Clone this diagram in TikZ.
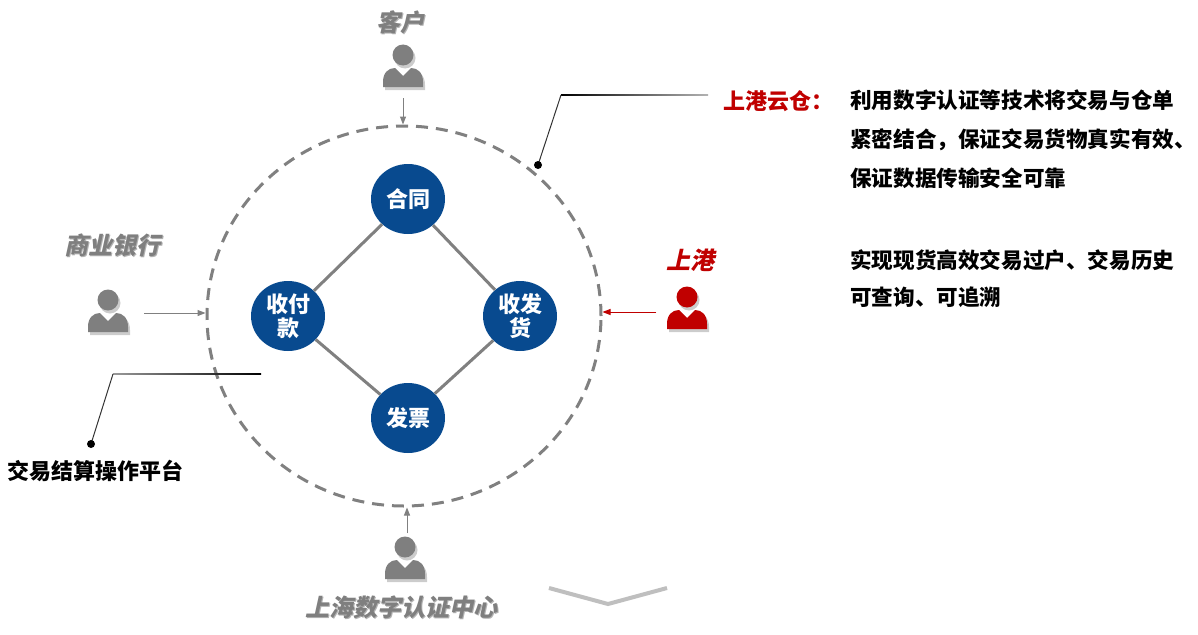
\documentclass[tikz,border=0pt]{standalone}
\usepackage{fontspec}
\newfontfamily\cjk{Noto Sans CJK SC}
\newfontfamily\cjkit{Noto Sans CJK SC}[FakeSlant=0.22]
\usetikzlibrary{shapes.geometric,arrows.meta}
\definecolor{nodeblue}{RGB}{8,74,143}
\definecolor{pgray}{RGB}{127,127,127}
\definecolor{ringgray}{RGB}{128,128,128}
\definecolor{pred}{RGB}{192,0,0}
\definecolor{chevgray}{RGB}{191,191,191}
\begin{document}
\begin{tikzpicture}[x=1pt,y=-1pt,
  bnode/.style={ellipse, fill=nodeblue, minimum width=74pt, minimum height=70pt, inner sep=0pt, text=white, font=\cjk\bfseries\fontsize{22}{26}\selectfont, align=center},
  link/.style={draw=ringgray, line width=3pt},
  arr/.style={-{Triangle[length=8pt,width=6pt]}, line width=1pt},
  glabel/.style={font=\cjkit\bfseries\fontsize{24}{28}\selectfont, text=pgray, inner sep=0pt},
  gshadow/.style={font=\cjkit\bfseries\fontsize{24}{28}\selectfont, text=black, opacity=0.3, inner sep=0pt},
  btext/.style={font=\cjk\bfseries\fontsize{22}{26}\selectfont, inner sep=0pt, anchor=west, align=left},
  pics/person/.style={code={
    \begin{scope}[shift={(2,3)}]
      \fill[black,opacity=0.2] (0,0) circle (10.5);
      \fill[black,opacity=0.2] (-20,32) -- (-20,27) .. controls (-20,18) and (-15,13) .. (-8,13) -- (0,21) -- (8,13) .. controls (15,13) and (20,18) .. (20,27) -- (20,32) -- cycle;
    \end{scope}
    \fill[#1] (0,0) circle (10.5);
    \fill[#1] (-20,32) -- (-20,27) .. controls (-20,18) and (-15,13) .. (-8,13) -- (0,21) -- (8,13) .. controls (15,13) and (20,18) .. (20,27) -- (20,32) -- cycle;
  }}
]
\useasboundingbox (0,0) rectangle (1198,634);
\fill[white] (0,0) rectangle (1198,634);

% dashed ring
\node[ellipse, draw=ringgray, line width=3pt, dash pattern=on 12pt off 8pt, minimum width=394pt, minimum height=380pt, inner sep=0pt] (ring) at (404,316) {};

% blue nodes
\node[bnode] (ht) at (408,199) {合同};
\node[bnode] (sfk) at (288,316) {收付\\[-2pt]款};
\node[bnode] (sfh) at (520,316) {收发\\[-2pt]货};
\node[bnode] (fp) at (408,418) {发票};
\draw[link] (ht) -- (sfk);
\draw[link] (ht) -- (sfh);
\draw[link] (sfk) -- (fp);
\draw[link] (sfh) -- (fp);

% persons
\pic at (403,55) {person=pgray};
\pic at (108,300) {person=pgray};
\pic at (687,297) {person=pred};
\pic at (405,547) {person=pgray};

% arrows
\coordinate (clientA) at (403,98);
\coordinate (bankA) at (144,313);
\coordinate (portA) at (656,312);
\coordinate (certA) at (407,533);
\draw[arr, draw=ringgray, fill=ringgray] (clientA) -- (clientA |- ring.north);
\draw[arr, draw=ringgray, fill=ringgray] (bankA) -- (ring.west |- bankA);
\draw[arr, draw=pred, fill=pred] (portA) -- (ring.east |- portA);
\draw[arr, draw=ringgray, fill=ringgray] (certA) -- (certA |- ring.south);

% gray / red labels
\node[gshadow] at (401.5,23.5) {客户};
\node[glabel] (lclient) at (400,22) {客户};
\node[gshadow] at (113.5,246.5) {商业银行};
\node[glabel] (lbank) at (112,245) {商业银行};
\node[gshadow] at (402.5,608.5) {上海数字认证中心};
\node[glabel] (lcert) at (401,607) {上海数字认证中心};
\node[glabel, text=pred] (lport) at (690,260) {上港};

% left callout
\coordinate (ldot) at (91,444);
\coordinate (lcorner) at (113,374);
\coordinate (lend) at (261,374);
\shade[left color=black!40, right color=black] (113,373.4) rectangle (261,374.6);
\draw[line width=1pt, black!80] (ldot) -- (lcorner);
\fill[black] (ldot) circle (4);
\node[btext] (platform) at (7,471) {交易结算操作平台};

% right callout
\coordinate (rdot) at (538,165);
\coordinate (rcorner) at (561,95);
\coordinate (rend) at (708,95);
\shade[left color=black, right color=black!30] (561,94.4) rectangle (708,95.6);
\draw[line width=1pt, black!80] (rdot) -- (rcorner);
\fill[black] (rdot) circle (4);
\node[btext, text=pred] (cloud) at (723,101) {上港云仓：};

% right paragraphs
\node[btext, font=\cjk\bfseries\fontsize{21.6}{39}\selectfont] (desc1) at (850,139) {利用数字认证等技术将交易与仓单\\紧密结合，保证交易货物真实有效、\\保证数据传输安全可靠};
\node[btext, font=\cjk\bfseries\fontsize{21.6}{37}\selectfont] (desc2) at (850,278.5) {实现现货高效交易过户、交易历史\\可查询、可追溯};

% chevron
\draw[chevgray, line width=4pt] (549,588) -- (608,604) -- (667,588);
\end{tikzpicture}
\end{document}
